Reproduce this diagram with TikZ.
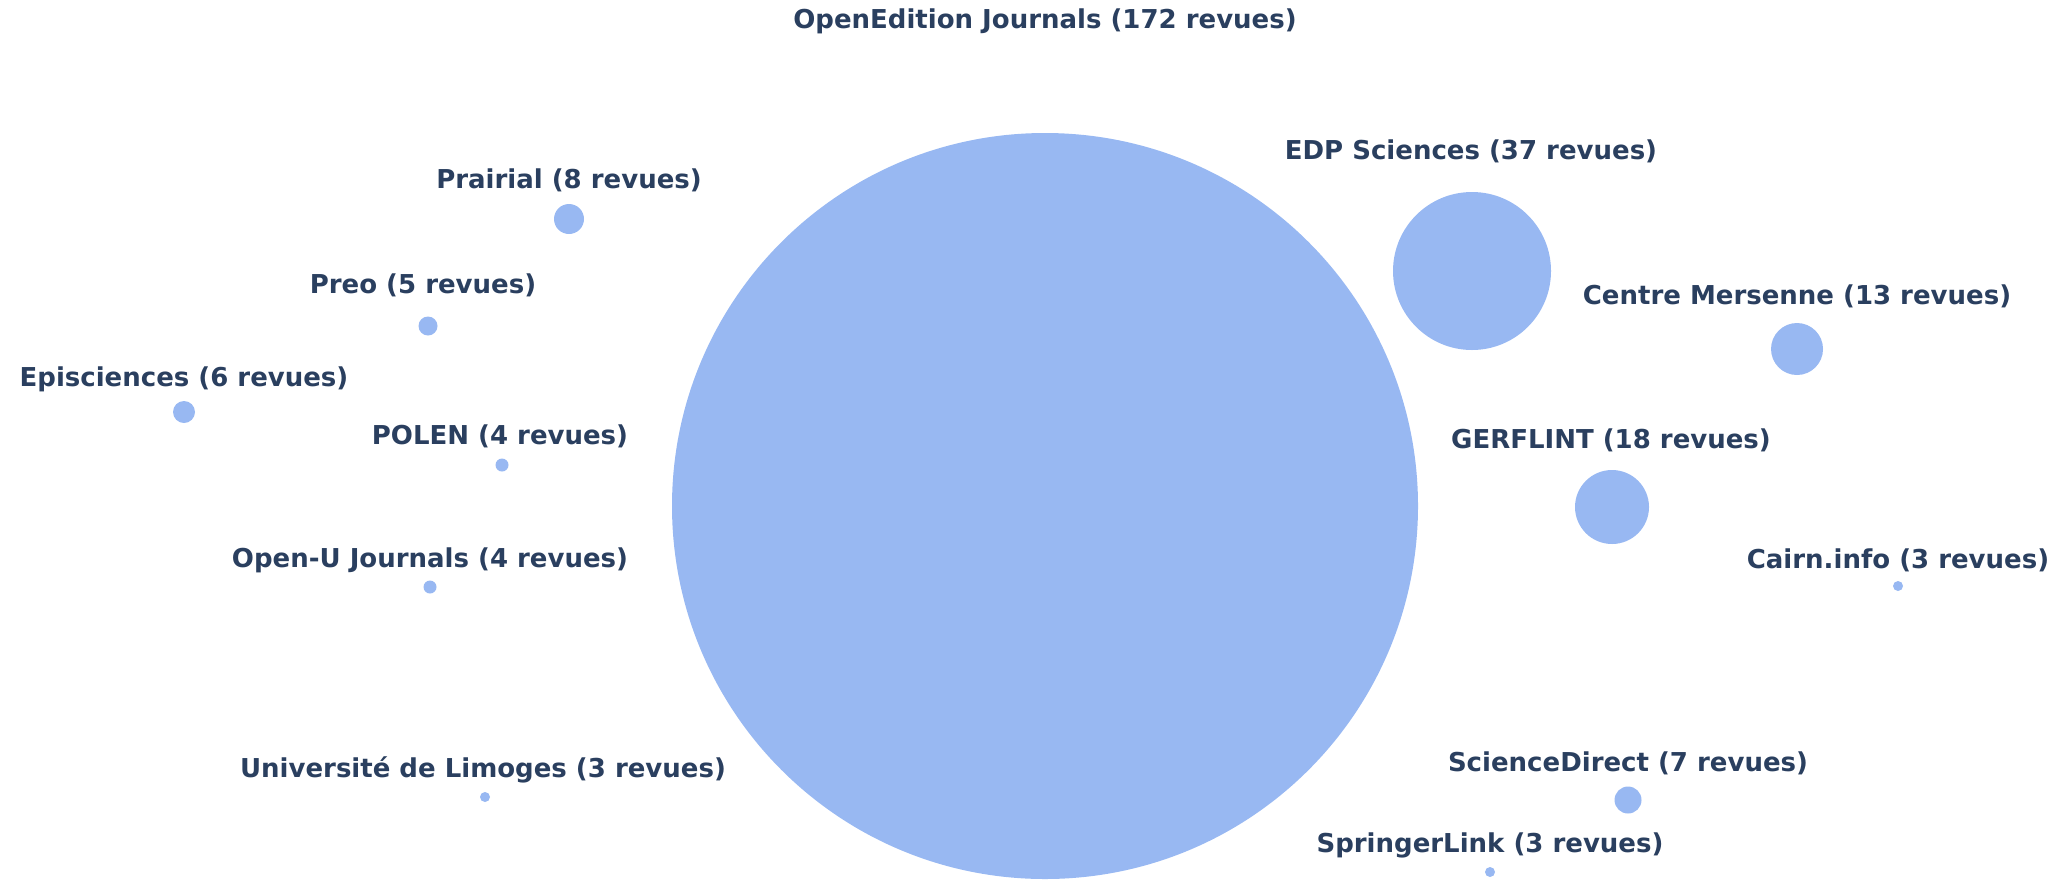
\documentclass[tikz,border=0pt]{standalone}
\usepackage{fontspec}
\setmainfont{DejaVu Sans}
\definecolor{bulle}{HTML}{98B8F2}
\definecolor{texte}{HTML}{2A3F5F}
\tikzset{
  bubble/.style={circle,fill=bulle,inner sep=0pt,minimum size=#1},
  etiq/.style={inner sep=0pt,text=texte,font=\bfseries\fontsize{13}{15}\selectfont}
}
\begin{document}
\begin{tikzpicture}[x=0.5pt,y=-0.5pt]
\useasboundingbox (0,0) rectangle (2070,879);
% centres des bulles (pixels)
\path
(1045,506) coordinate (OE)
(1472,271) coordinate (EDP)
(1797,349) coordinate (CM)
(1612,507) coordinate (GER)
(1898,586) coordinate (CAI)
(1628,800) coordinate (SD)
(1490,872) coordinate (SL)
(569,219) coordinate (PRA)
(428,326) coordinate (PRE)
(184,412) coordinate (EPI)
(502,465) coordinate (POL)
(430,587) coordinate (OU)
(485,797) coordinate (UL)
;
\foreach \x/\r in {OE/373pt,EDP/79pt,CM/26pt,GER/37pt,CAI/5pt,SD/13.5pt,SL/5pt,PRA/15pt,PRE/9.5pt,EPI/11pt,POL/6.5pt,OU/6.5pt,UL/5pt}
\node[bubble=\r] (\x-b) at (\x) {};
% etiquettes
\node[etiq] (OE-t) at (1045,21) {OpenEdition Journals (172 revues)};
\node[etiq] (EDP-t) at (1471,151) {EDP Sciences (37 revues)};
\node[etiq] (CM-t) at (1797,296) {Centre Mersenne (13 revues)};
\node[etiq] (GER-t) at (1611,440) {GERFLINT (18 revues)};
\node[etiq] (CAI-t) at (1898,560) {Cairn.info (3 revues)};
\node[etiq] (SD-t) at (1628,763) {ScienceDirect (7 revues)};
\node[etiq] (SL-t) at (1490,845) {SpringerLink (3 revues)};
\node[etiq] (PRA-t) at (569,180) {Prairial (8 revues)};
\node[etiq] (PRE-t) at (423,285) {Preo (5 revues)};
\node[etiq] (EPI-t) at (184,379) {Episciences (6 revues)};
\node[etiq] (POL-t) at (500,436) {POLEN (4 revues)};
\node[etiq] (OU-t) at (430,560) {Open-U Journals (4 revues)};
\node[etiq] (UL-t) at (483,770) {Université de Limoges (3 revues)};
\end{tikzpicture}
\end{document}
